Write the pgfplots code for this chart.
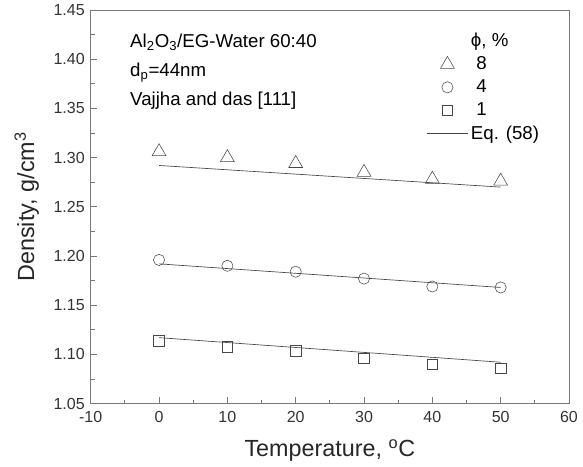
\documentclass[border=0pt]{standalone}
\usepackage{pgfplots}
\pgfplotsset{compat=1.18}
\usepackage{fontspec}
\setmainfont{Liberation Sans}
\definecolor{axgray}{RGB}{120,120,120}
\definecolor{mk}{RGB}{70,70,70}
\begin{document}
\begin{tikzpicture}
\begin{axis}[
  name=ax,
  scale only axis,
  width=358.5pt, height=295pt,
  xmin=-10, xmax=60, ymin=1.05, ymax=1.45,
  xtick={-10,0,...,60}, ytick={1.05,1.10,...,1.45},
  minor x tick num=1, minor y tick num=1,
  tick align=inside,
  xtick pos=bottom, ytick pos=left,
  axis line style={axgray, line width=0.6pt},
  tick style={axgray, line width=0.6pt},
  major tick length=5pt, minor tick length=3pt,
  /pgf/number format/assume math mode=true,
  yticklabel style={/pgf/number format/fixed, /pgf/number format/fixed zerofill, /pgf/number format/precision=2, xshift=-1pt},
  ticklabel style={font=\fontsize{12}{14}\selectfont, text=black!80},
  xticklabel style={yshift=-2pt},
  xlabel={Temperature, \textsuperscript{o}C},
  ylabel={Density, g/cm\textsuperscript{3}},
  label style={font=\fontsize{17.5}{20}\selectfont, text=black!85},
  ylabel style={yshift=4pt},
  xlabel style={yshift=-6pt},
  legend style={draw=none, fill=none, at={(0.952,0.955)}, anchor=north east, font=\fontsize{14}{16}\selectfont, row sep=2pt},
  legend cell align=left,
  legend image code/.code={\draw[mark repeat=2,mark phase=2,#1] plot coordinates {(0cm,0cm) (0.54cm,0cm) (1.08cm,0cm)};},
]
\addlegendimage{empty legend}\addlegendentry{ϕ, \%}
\addplot[only marks, mark=triangle, mark size=6pt, mk, thin] coordinates {(0,1.306)(10,1.300)(20,1.294)(30,1.285)(40,1.278)(50,1.276)};
\addlegendentry{\hspace{4pt}8}
\addplot[only marks, mark=o, mark size=4.2pt, mk, thin] coordinates {(0,1.196)(10,1.190)(20,1.184)(30,1.177)(40,1.169)(50,1.168)};
\addlegendentry{\hspace{4pt}4}
\addplot[only marks, mark=square, mark size=4pt, mk, thin] coordinates {(0,1.114)(10,1.108)(20,1.104)(30,1.096)(40,1.090)(50,1.086)};
\addlegendentry{\hspace{4pt}1}
\addplot[mk, line width=0.5pt] coordinates {(0,1.292)(50,1.270)};
\addlegendentry{Eq. (58)}
\addplot[mk, line width=0.5pt, forget plot] coordinates {(0,1.192)(50,1.168)};
\addplot[mk, line width=0.5pt, forget plot] coordinates {(0,1.117)(50,1.092)};
\node[anchor=north west, align=left, font=\fontsize{14}{21.7}\selectfont, inner sep=0pt] at (axis description cs:0.082,0.94)
  {Al\textsubscript{2}O\textsubscript{3}/EG-Water 60:40\\ d\textsubscript{p}=44nm\\ Vajjha and das [111]};
\end{axis}
\pgfresetboundingbox
\path ([shift={(-68pt,-47pt)}]ax.south west) rectangle ([shift={(10.5pt,7.5pt)}]ax.north east);
\end{tikzpicture}
\end{document}
